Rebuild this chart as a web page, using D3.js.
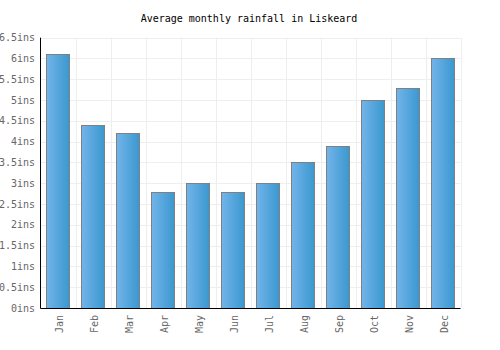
<!DOCTYPE html>
<html><head><meta charset="utf-8">
<script src="https://cdn.jsdelivr.net/npm/d3@7"></script>
<style>body{margin:0;background:#fff}</style>
</head><body><svg id="c" width="500" height="350"></svg>
<script>
const months = ["Jan","Feb","Mar","Apr","May","Jun","Jul","Aug","Sep","Oct","Nov","Dec"];
const rainfall = [6.1,4.4,4.2,2.8,3.0,2.8,3.0,3.5,3.9,5.0,5.3,6.0];
const yTicks = [0,0.5,1,1.5,2,2.5,3,3.5,4,4.5,5,5.5,6,6.5];
const title = "Average monthly rainfall in Liskeard";

const svg = d3.select("#c");
const m = {l:40.5, r:460.5, t:37.7, b:308};
const font = "'DejaVu Sans Mono', monospace";
const x = d3.scaleBand().domain(months).range([m.l,m.r]).paddingInner(0.33).paddingOuter(0.165);
const xg = d3.scaleBand().domain(months).range([m.l,m.r]);
const y = d3.scaleLinear().domain([0,6.5]).range([m.b,m.t]);

const defs = svg.append("defs");
const g = defs.append("linearGradient").attr("id","bg").attr("x1","0").attr("x2","1").attr("y1","0").attr("y2","0");
g.append("stop").attr("offset","0").attr("stop-color","#72b4ea");
g.append("stop").attr("offset","1").attr("stop-color","#3a98cf");

// grid
svg.append("g").selectAll("line").data(yTicks).join("line")
  .attr("x1",m.l).attr("x2",m.r).attr("y1",d=>Math.round(y(d))+0.5).attr("y2",d=>Math.round(y(d))+0.5)
  .attr("stroke","#eeeeee");
svg.append("g").selectAll("line").data(months).join("line")
  .attr("x1",d=>Math.round(xg(d)+xg.bandwidth())+0.5).attr("x2",d=>Math.round(xg(d)+xg.bandwidth())+0.5)
  .attr("y1",m.t).attr("y2",m.b).attr("stroke","#eeeeee");

// bars
svg.append("g").selectAll("rect").data(rainfall).join("rect")
  .attr("x",(d,i)=>Math.round(x(months[i]))+0.5).attr("width",Math.round(x.bandwidth()))
  .attr("y",d=>Math.round(y(d))+0.5).attr("height",d=>Math.round(y(0))-Math.round(y(d)))
  .attr("fill","url(#bg)").attr("stroke","#808080").attr("stroke-width",1);

// axes lines
svg.append("line").attr("x1",m.l).attr("x2",m.l).attr("y1",m.t).attr("y2",m.b+0.5).attr("stroke","#000");
svg.append("line").attr("x1",m.l).attr("x2",m.r).attr("y1",m.b+0.5).attr("y2",m.b+0.5).attr("stroke","#000");

// y labels
svg.append("g").selectAll("text").data(yTicks).join("text")
  .attr("x",35).attr("y",d=>y(d)+3.5).attr("text-anchor","end")
  .attr("font-family",font).attr("font-size",10).attr("fill","#666")
  .text(d=>d+"ins");

// x labels
svg.append("g").selectAll("text").data(months).join("text")
  .attr("transform",d=>`translate(${x(d)+x.bandwidth()/2+4.5},315) rotate(-90)`)
  .attr("text-anchor","end")
  .attr("font-family",font).attr("font-size",10).attr("fill","#666")
  .text(d=>d);

svg.append("text").attr("x",249).attr("y",22).attr("text-anchor","middle")
  .attr("font-family",font).attr("font-size",10).attr("fill","#000").text(title);
</script></body></html>
